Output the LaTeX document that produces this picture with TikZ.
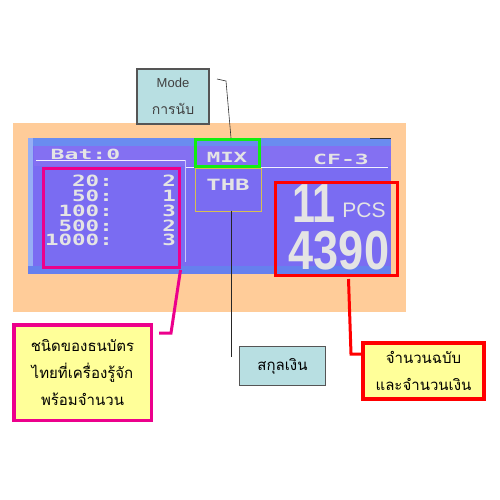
\documentclass[tikz,border=0pt]{standalone}
\usepackage{graphicx}
\usepackage{fontspec}
\setmainfont{Liberation Sans}
\newfontfamily\thaif[Script=Thai]{Loma}
\newfontfamily\lcdf{DejaVu Sans Mono}
\newcommand{\lcdw}[2]{\scalebox{#1}[1]{#2}}
\definecolor{peach}{HTML}{FFCC99}
\definecolor{scr}{HTML}{7A6CF2}
\definecolor{scrtop}{HTML}{6A8CF0}
\definecolor{scrband}{HTML}{8470F2}
\definecolor{scrbot}{HTML}{6680EE}
\definecolor{lcdc}{HTML}{E4E4E4}
\definecolor{cyanbox}{HTML}{B8DFE2}
\definecolor{paleyel}{HTML}{FFFF99}
\definecolor{grn}{HTML}{11EE11}
\definecolor{thbline}{HTML}{D8C050}
\definecolor{boxgray}{HTML}{555555}
\tikzset{
  lcdtext/.style={text=lcdc, font=\lcdf\bfseries\fontsize{14}{14}\selectfont, inner sep=0pt},
  numtext/.style={text=lcdc, font=\lcdf\bfseries\fontsize{15.5}{15.5}\selectfont, inner sep=0pt},
  bigtext/.style={text=lcdc, font=\bfseries\fontsize{55}{55}\selectfont, inner sep=0pt},
  infobox/.style={draw=boxgray, fill=cyanbox, line width=1.2pt, inner sep=0pt},
  callout/.style={fill=paleyel, inner sep=0pt, align=center, font=\thaif\fontsize{15}{27}\selectfont},
  frame/.style={inner sep=0pt, line width=3pt},
}
\begin{document}
\begin{tikzpicture}[x=1pt,y=-1pt]
\useasboundingbox (0,0) rectangle (500,500);
% background panel
\fill[peach] (13,123) rectangle (406,312);
% screen
\fill[scr] (28,138) rectangle (391,274);
\fill[scrtop] (28,138) rectangle (391,146);
\fill[scrband] (34,146) rectangle (391,166);
\fill[scrbot] (28,266) rectangle (391,274);
\fill[scrtop!70!white] (28,138) rectangle (33,266);
\draw[black!80, line width=1.5pt] (370,138.5) -- (391,138.5);
% screen lines
\draw[white!90!scr, line width=1pt] (36,160) -- (185,160);
\draw[white!90!scr, line width=1pt] (185,167) -- (388,167);
\draw[white!60!scr, line width=0.8pt] (185,160) -- (185,262);
% header texts
\node[lcdtext] (bat) at (85.5,154) {\lcdw{1.65}{Bat:0}};
\node[lcdtext] (mixt) at (227,157) {\lcdw{1.6}{MIX}};
\node[lcdtext] (cf) at (341,159) {\lcdw{1.65}{CF-3}};
\node[numtext] (thbt) at (228,185) {\lcdw{1.55}{THB}};
% denominations
\node[numtext, anchor=east] (d1) at (113,181) {\lcdw{1.45}{20:}};
\node[numtext, anchor=east] (d2) at (113,196) {\lcdw{1.45}{50:}};
\node[numtext, anchor=east] (d3) at (113,211) {\lcdw{1.45}{100:}};
\node[numtext, anchor=east] (d4) at (113,225.5) {\lcdw{1.45}{500:}};
\node[numtext, anchor=east] (d5) at (113,240) {\lcdw{1.45}{1000:}};
\node[numtext, anchor=east] (v1) at (176,181) {\lcdw{1.45}{2}};
\node[numtext, anchor=east] (v2) at (176,196) {\lcdw{1.45}{1}};
\node[numtext, anchor=east] (v3) at (176,211) {\lcdw{1.45}{3}};
\node[numtext, anchor=east] (v4) at (176,225.5) {\lcdw{1.45}{2}};
\node[numtext, anchor=east] (v5) at (176,240) {\lcdw{1.45}{3}};
% big count
\node[bigtext] (pcs11) at (314,203.5) {\lcdw{0.75}{11}};
\node[text=lcdc, font=\fontsize{21}{21}\selectfont, inner sep=0pt] (pcs) at (364,210.5) {PCS};
\node[bigtext] (amt) at (339,250.5) {\lcdw{0.82}{4390}};
% frames
\node[frame, draw=grn, minimum width=64, minimum height=27] (mix) at (227.5,153) {};
\node[draw=thbline, line width=0.8pt, inner sep=0pt, minimum width=66, minimum height=43] (thb) at (228,189.5) {};
\node[frame, draw=magenta, minimum width=136, minimum height=99] (denom) at (111.5,218) {};
\node[frame, draw=red, minimum width=122, minimum height=93] (count) at (336.5,229) {};
% Mode box
\node[infobox, minimum width=72, minimum height=55, align=center, text=black!75, font=\fontsize{13}{27}\selectfont] (mode) at (173,96.5) {Mode\\{\thaif\fontsize{14}{14}\selectfont การนับ}};
% currency box
\node[infobox, minimum width=85.5, minimum height=38.5, font=\thaif\fontsize{15}{15}\selectfont] (cur) at (282.5,366) {สกุลเงิน};
% callouts
\node[callout, draw=magenta, line width=3.5pt, minimum width=137.5, minimum height=95.5] (denbox) at (82.5,372.5) {ชนิดของธนบัตร\\ไทยที่เครื่องรู้จัก\\พร้อมจำนวน};
\node[callout, draw=red, line width=4pt, minimum width=121, minimum height=56] (cntbox) at (423.5,371) {จำนวนฉบับ\\และจำนวนเงิน};
% connectors
\coordinate (m0) at (217,79);
\coordinate (m1) at (226,81);
\coordinate (m2) at (231,138);
\draw[black!80, line width=0.6pt] (m0) -- (m1) -- (m2);
\coordinate (t0) at (231,211);
\coordinate (t1) at (231,357);
\draw[black!85, line width=0.8pt] (t0) -- (t1);
\coordinate (p0) at (180.5,270);
\coordinate (p1) at (171,333);
\coordinate (p2) at (159,333);
\draw[magenta, line width=3pt] (p0) -- (p1) -- (p2);
\coordinate (r0) at (348.5,279);
\coordinate (r1) at (351,354);
\coordinate (r2) at (361,354);
\draw[red, line width=3pt] (r0) -- (r1) -- (r2);
\end{tikzpicture}
\end{document}
